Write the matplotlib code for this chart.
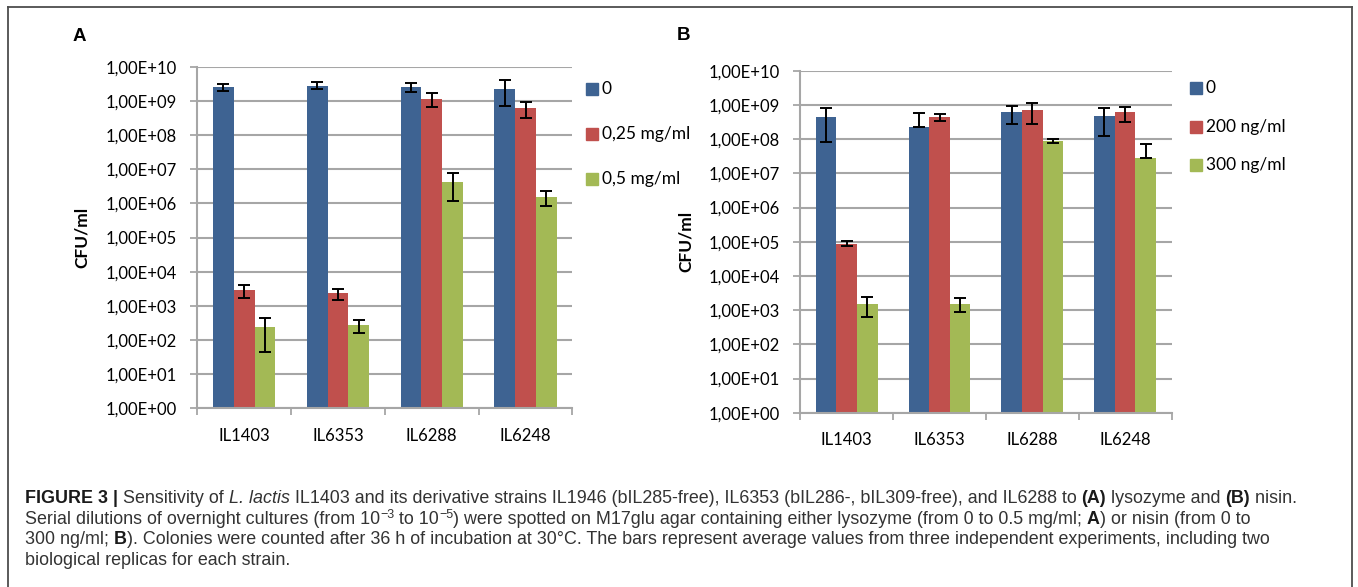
import numpy as np
import matplotlib
matplotlib.use('Agg')
import matplotlib.pyplot as plt
from matplotlib.lines import Line2D
from matplotlib.patches import Rectangle

W, H = 1358, 587

strains = ['IL1403', 'IL6353', 'IL6288', 'IL6248']
decades = [1, 1e1, 1e2, 1e3, 1e4, 1e5, 1e6, 1e7, 1e8, 1e9, 1e10]
decade_labels = ['1,00E+00', '1,00E+01', '1,00E+02', '1,00E+03', '1,00E+04', '1,00E+05',
                 '1,00E+06', '1,00E+07', '1,00E+08', '1,00E+09', '1,00E+10']

# panel A - lysozyme
labels_a = ['0', '0,25 mg/ml', '0,5 mg/ml']
a_zero = [2.5e9, 2.7e9, 2.5e9, 2.3e9]
a_zero_lo = [0.5e9, 0.5e9, 0.7e9, 1.58e9]
a_zero_hi = [0.7e9, 0.85e9, 0.8e9, 1.7e9]
a_025 = [2.85e3, 2.3e3, 1.16e9, 6.0e8]
a_025_lo = [1.1e3, 0.8e3, 0.5e9, 2.8e8]
a_025_hi = [1.25e3, 0.85e3, 0.5e9, 3.0e8]
a_05 = [2.46e2, 2.7e2, 4.3e6, 1.5e6]
a_05_lo = [200, 105, 3.1e6, 0.69e6]
a_05_hi = [200, 115, 3.3e6, 0.74e6]

# panel B - nisin
labels_b = ['0', '200 ng/ml', '300 ng/ml']
b_zero = [4.3e8, 2.2e8, 6.1e8, 4.7e8]
b_zero_lo = [3.5e8, 0.0, 3.4e8, 3.5e8]
b_zero_hi = [3.6e8, 3.5e8, 3.4e8, 3.6e8]
b_200 = [8.7e4, 4.3e8, 6.95e8, 6.1e8]
b_200_lo = [1.1e4, 0.85e8, 4.2e8, 2.9e8]
b_200_hi = [1.5e4, 1.0e8, 4.3e8, 2.75e8]
b_300 = [1.5e3, 1.54e3, 9.0e7, 2.75e7]
b_300_lo = [0.87e3, 0.66e3, 1.15e7, 0.0]
b_300_hi = [0.96e3, 0.76e3, 1.0e7, 4.25e7]

colors = ['#3E6392', '#C0504D', '#A3B955']
grid_col = '#A6A6A6'
font = ['Lato', 'DejaVu Sans']
tick_size = 12

fig = plt.figure(figsize=(W / 100, H / 100), dpi=100)


def px_axes(left, top, right, bottom):
    return fig.add_axes([left / W, 1 - bottom / H, (right - left) / W, (bottom - top) / H])


def draw_panel(ax, series, los, his):
    x = np.arange(len(strains))
    w = 0.222
    for i in range(3):
        xs = x + (i - 1) * w
        ax.bar(xs, series[i], width=w, color=colors[i], zorder=2)
        ax.errorbar(xs, series[i], yerr=[los[i], his[i]], fmt='none', ecolor='black',
                    elinewidth=1.4, capsize=4, capthick=1.4, zorder=3)
    ax.set_yscale('log')
    ax.set_ylim(1, 1e10)
    ax.set_xlim(-0.5, 3.5)
    ax.set_yticks(decades)
    ax.set_yticklabels(decade_labels, family=font, fontsize=tick_size)
    ax.yaxis.set_minor_locator(matplotlib.ticker.NullLocator())
    ax.set_xticks(x)
    ax.set_xticklabels(strains, family=font, fontsize=tick_size)
    ax.set_xticks(np.arange(-0.5, 4, 1), minor=True)
    ax.tick_params(axis='x', which='major', length=0, pad=14)
    ax.tick_params(axis='x', which='minor', length=5, width=1.3, color=grid_col, direction='out')
    ax.tick_params(axis='y', length=5, width=1.3, color=grid_col, direction='out', pad=10)
    ax.yaxis.grid(True, color=grid_col, lw=1.5)
    ax.set_axisbelow(True)
    for s in ['top', 'right']:
        ax.spines[s].set_visible(False)
    for s in ['left', 'bottom']:
        ax.spines[s].set_color(grid_col)
        ax.spines[s].set_linewidth(1.5)
    ax.set_ylabel('CFU/ml', family=font, fontsize=12.5, fontweight='bold')
    ax.yaxis.set_label_coords(-0.286, 0.5)


def legend(x0, ys, labels):
    for i, lab in enumerate(labels):
        fig.add_artist(Rectangle((x0 / W, 1 - (ys[i] + 6) / H), 12 / W, 12 / H,
                                 transform=fig.transFigure, color=colors[i]))
        fig.text((x0 + 16) / W, 1 - ys[i] / H, lab, family=font, fontsize=12.5, va='center')


ax_a = px_axes(197.3, 66.7, 572.4, 408.3)
draw_panel(ax_a, [a_zero, a_025, a_05], [a_zero_lo, a_025_lo, a_05_lo], [a_zero_hi, a_025_hi, a_05_hi])
ax_b = px_axes(800.3, 70.7, 1171.5, 412.7)
draw_panel(ax_b, [b_zero, b_200, b_300], [b_zero_lo, b_200_lo, b_300_lo], [b_zero_hi, b_200_hi, b_300_hi])

legend(586, [89.3, 134, 179], labels_a)
legend(1190, [87.7, 126.7, 165], labels_b)

fig.text(73 / W, 1 - 41 / H, 'A', family='Liberation Sans', fontsize=13.5, fontweight='bold')
fig.text(677 / W, 1 - 40 / H, 'B', family='Liberation Sans', fontsize=13.5, fontweight='bold')

# outer frame
fr = dict(color='#4D4D4D', lw=1.3, transform=fig.transFigure)
fig.add_artist(Line2D([8 / W, 1352 / W], [1 - 7 / H, 1 - 7 / H], **fr))
fig.add_artist(Line2D([8 / W, 8 / W], [0, 1 - 7 / H], **fr))
fig.add_artist(Line2D([1352 / W, 1352 / W], [0, 1 - 7 / H], **fr))

# caption with mixed styles
renderer = fig.canvas.get_renderer()
cap_size = 12.9
body = '#333333'


def rich_line(parts, y):
    x = 25
    for text, style in parts:
        kw = dict(family=['Liberation Sans', 'DejaVu Sans'], fontsize=cap_size, color=body)
        dy = 0
        if 'b' in style:
            kw['fontweight'] = 'bold'
            kw['color'] = '#1A1A1A'
        if 'i' in style:
            kw['style'] = 'italic'
        if 's' in style:
            kw['fontsize'] = cap_size * 0.7
            dy = 6
        t = fig.text(x / W, 1 - (y - dy) / H, text, va='baseline', **kw)
        bb = t.get_window_extent(renderer)
        x = bb.x1


rich_line([('FIGURE 3 | ', 'b'), ('Sensitivity of ', ''), ('L. lactis', 'i'),
           (' IL1403 and its derivative strains IL1946 (bIL285-free), IL6353 (bIL286-, bIL309-free), and IL6288 to ', ''),
           ('(A)', 'b'), (' lysozyme and ', ''), ('(B)', 'b'), (' nisin.', '')], 503)
rich_line([('Serial dilutions of overnight cultures (from 10', ''), ('\u22123', 's'), (' to 10', ''),
           ('\u22125', 's'),
           (') were spotted on M17glu agar containing either lysozyme (from 0 to 0.5 mg/ml; ', ''),
           ('A', 'b'), (') or nisin (from 0 to', '')], 523.7)
rich_line([('300 ng/ml; ', ''), ('B', 'b'),
           ('). Colonies were counted after 36 h of incubation at 30\u00b0C. The bars represent average values from three independent experiments, including two', '')],
          544.4)
rich_line([('biological replicas for each strain.', '')], 565)

fig.savefig('out.png', dpi=100)
